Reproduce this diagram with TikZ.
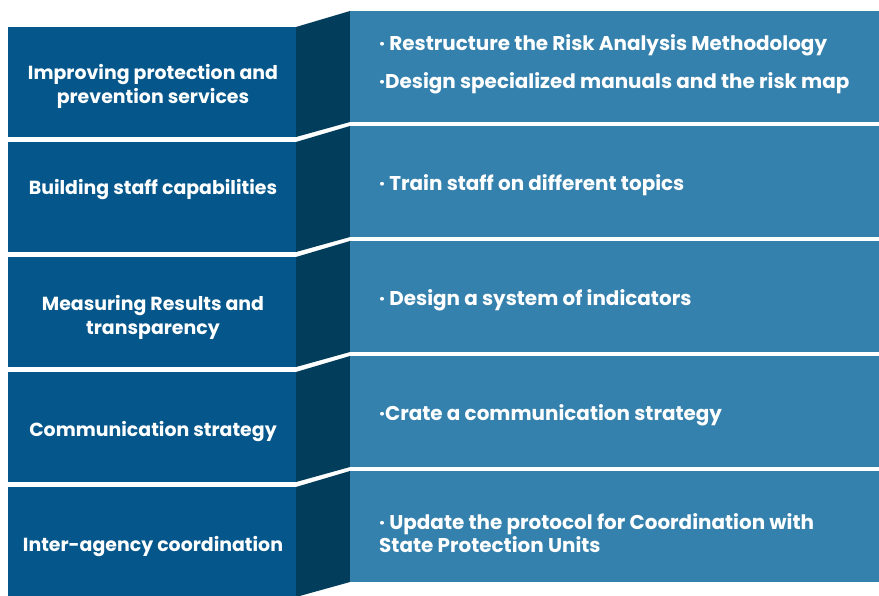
\documentclass[tikz,border=0pt]{standalone}
\usepackage{fontspec}
\setmainfont{Poppins}

\definecolor{frontblue}{HTML}{05568A}
\definecolor{sideblue}{HTML}{033D5C}
\definecolor{backblue}{HTML}{3581AD}

\tikzset{
  front/.style={fill=frontblue},
  side/.style={fill=sideblue},
  back/.style={fill=backblue},
  goal/.style={text=white, font=\bfseries\fontsize{19}{24}\selectfont, align=center, inner sep=0pt},
  action/.style={text=white, font=\bfseries\fontsize{20}{21}\selectfont, align=left, anchor=west, inner sep=0pt}
}

\begin{document}
\begin{tikzpicture}[x=1bp, y=-1bp]
\useasboundingbox (0,0) rectangle (879,596);

% Row 1
\fill[front] (8,27) rectangle (296,137);
\fill[side] (296,27) -- (350,11) -- (350,122) -- (296,137) -- cycle;
\fill[back] (350,11) rectangle (879,122);

% Row 2
\fill[front] (8,142) rectangle (296,252);
\fill[side] (296,142) -- (350,126) -- (350,237) -- (296,252) -- cycle;
\fill[back] (350,126) rectangle (879,237);

% Row 3
\fill[front] (8,257) rectangle (296,367);
\fill[side] (296,257) -- (350,241) -- (350,352) -- (296,367) -- cycle;
\fill[back] (350,241) rectangle (879,352);

% Row 4
\fill[front] (8,372) rectangle (296,482);
\fill[side] (296,372) -- (350,356) -- (350,467) -- (296,482) -- cycle;
\fill[back] (350,356) rectangle (879,467);

% Row 5
\fill[front] (8,487) rectangle (296,597);
\fill[side] (296,487) -- (350,471) -- (350,582) -- (296,597) -- cycle;
\fill[back] (350,471) rectangle (879,582);

% Goals
\node[goal] (g1) at (153,86) {Improving protection and\\prevention services};
\node[goal] (g2) at (153,190) {Building staff capabilities};
\node[goal] (g3) at (153,317) {Measuring Results and\\transparency};
\node[goal] (g4) at (153,432) {Communication strategy};
\node[goal] (g5) at (153,547) {Inter-agency coordination};

% Actions
\node[action] (a1) at (379,45) {· Restructure the Risk Analysis Methodology};
\node[action] (a1b) at (379,83) {·Design specialized manuals and the risk map};
\node[action] (a2) at (379,185) {· Train staff on different topics};
\node[action] (a3) at (379,300) {· Design a system of indicators};
\node[action] (a4) at (379,415) {·Crate a communication strategy};
\node[action] (a5) at (379,533) {· Update the protocol for Coordination with\\State Protection Units};
\end{tikzpicture}
\end{document}
